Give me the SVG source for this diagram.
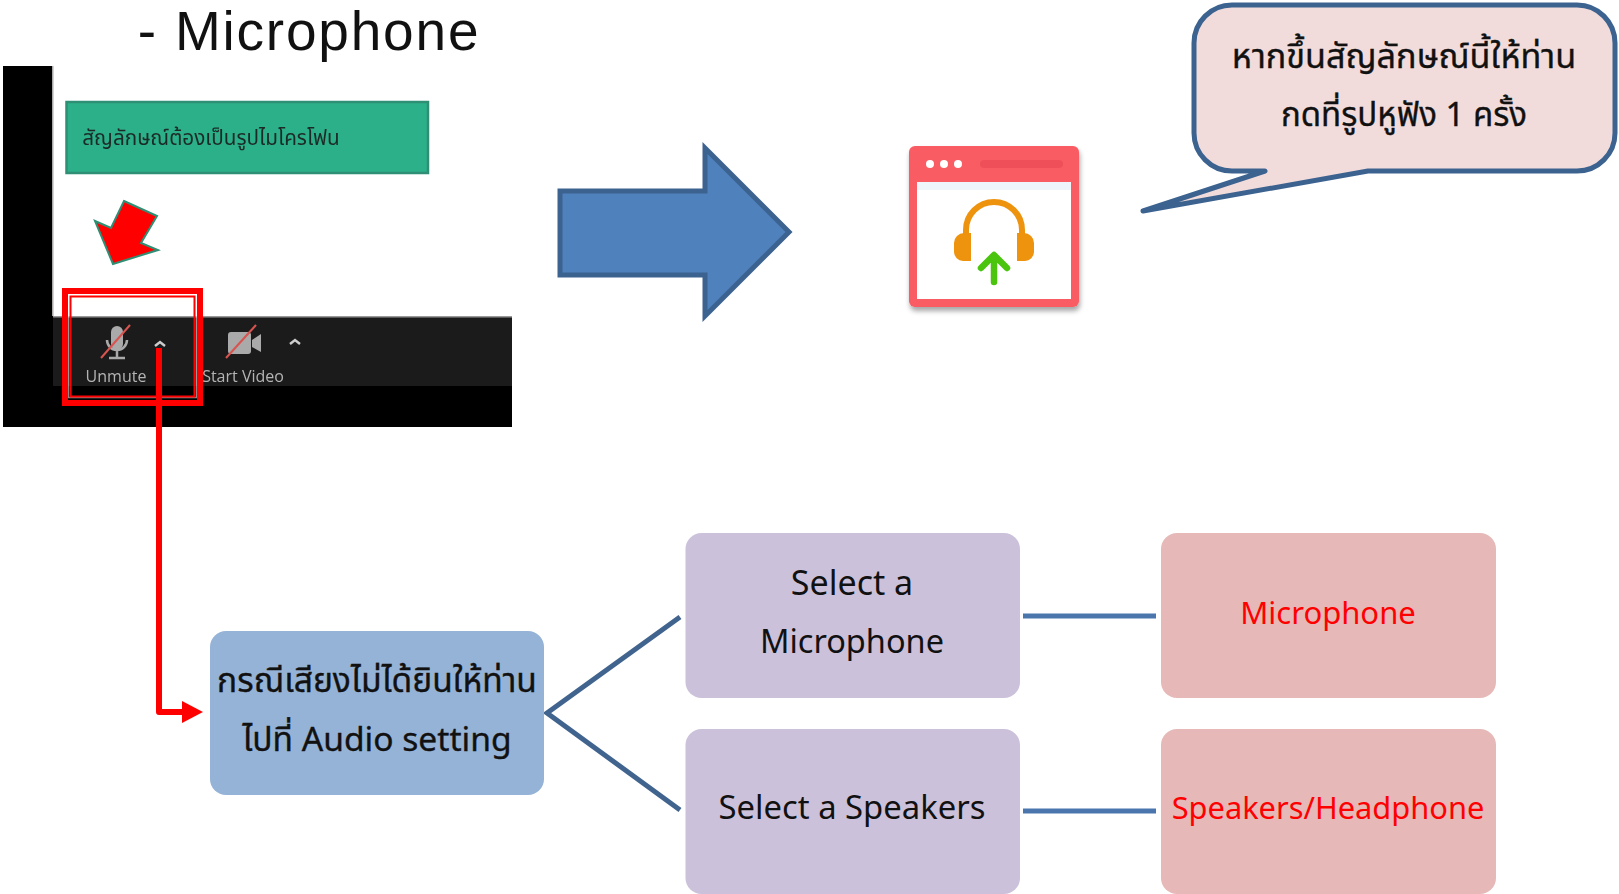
<svg xmlns="http://www.w3.org/2000/svg" width="1619" height="894" viewBox="0 0 1619 894">
<style>
text{font-family:"Noto Sans","Noto Sans Thai","DejaVu Sans",sans-serif;text-anchor:middle;fill:#111}
.th{stroke:#111;stroke-width:.35}
.conn{stroke:#41648f;stroke-width:5;fill:none}
.h{stroke:#4a76ad}
.ui{font-family:"Open Sans","Noto Sans",sans-serif;font-size:16px;fill:#b4b4b4}
.r{fill:#f00}
</style>
<defs>
<filter id="sh" x="-10%" y="-10%" width="120%" height="125%"><feDropShadow dx="1" dy="4" stdDeviation="2.5" flood-color="#000" flood-opacity=".35"/></filter>
<filter id="soft"><feGaussianBlur stdDeviation=".45"/></filter>
</defs>
<rect width="1619" height="894" fill="#fff"/>
<text id="title" x="309" y="50" style="font-family:'Liberation Sans',sans-serif;font-size:55px;letter-spacing:1.8px">- Microphone</text>
<g id="screenshot">
<rect x="3" y="66" width="509" height="361" fill="#000"/>
<rect x="53" y="66" width="459" height="251" fill="#fff"/>
<rect x="53" y="316" width="459" height="70" fill="#1b1b1b"/>
<rect x="53" y="316" width="459" height="1.5" fill="#999"/>
<rect x="52" y="66" width="1.5" height="250" fill="#aaa"/>
<rect x="66.500" y="102" width="361.500" height="71" fill="#2bb08a" stroke="#2f8f75" stroke-width="2.500"/>
<text x="211" y="145" filter="url(#soft)" style="font-size:20.700px;fill:#1c2b26">สัญลักษณ์ต้องเป็นรูปไมโครโฟน</text>
<polygon points="124,201 157,216 141,243 158,250 113,264 95,221 111,228" fill="#f00" stroke="#2f8f75" stroke-width="2"/>
<g id="mic" filter="url(#soft)"><rect x="111" y="326" width="12" height="24" rx="6" fill="#aaa"/><path d="M107 340a10 10 0 0 0 20 0M117 350v8M109 358h16" stroke="#aaa" stroke-width="2.500" fill="none"/><line x1="101" y1="358" x2="130" y2="325" stroke="#d9534f" stroke-width="2"/></g>
<path d="M155 346l5-4 5 4" stroke="#ccc" stroke-width="2.500" fill="none"/>
<text class="ui" x="116" y="382" filter="url(#soft)">Unmute</text>
<g id="cam" filter="url(#soft)"><rect x="228" y="332" width="23" height="22" rx="3" fill="#aaa"/><polygon points="252,340 261,334 261,352 252,347" fill="#aaa"/><line x1="226" y1="358" x2="256" y2="325" stroke="#d9534f" stroke-width="2"/></g>
<path d="M290 344l5-4 5 4" stroke="#ccc" stroke-width="2.500" fill="none"/>
<text class="ui" x="243" y="382" filter="url(#soft)">Start Video</text>
<rect x="68.500" y="294.500" width="128" height="103" fill="none" stroke="#fff" stroke-opacity=".55" stroke-width="1.500"/>
<rect x="70.500" y="296.500" width="124" height="100" fill="none" stroke="#f00" stroke-width="2"/>
<rect x="65" y="291" width="135" height="112" fill="none" stroke="#f00" stroke-width="6"/>
</g>
<g id="big-arrow"><polygon points="560,191 705,191 705,148 789,232 705,316 705,275 560,275" fill="#4f81bd" stroke="#3c6290" stroke-width="5"/></g>
<g id="headset-icon" filter="url(#sh)">
<rect x="909" y="146" width="170" height="161" rx="6" fill="#fa5c64"/>
<rect x="917" y="182" width="154" height="117" fill="#fff"/>
<rect x="917" y="182" width="154" height="8" fill="#eff6fb"/>
<circle cx="930" cy="164" r="4" fill="#fff"/><circle cx="944" cy="164" r="4" fill="#fff"/><circle cx="958" cy="164" r="4" fill="#fff"/>
<rect x="980" y="160" width="83" height="8" rx="4" fill="#ee5058"/>
<path d="M966 236v-6a28 28 0 0 1 56 0v6" fill="none" stroke="#ee9310" stroke-width="6"/>
<path d="M971 233h-7a10 10 0 0 0-10 10v9a9 9 0 0 0 9 9h8zM1017 233h7a10 10 0 0 1 10 10v9a9 9 0 0 1-9 9h-8z" fill="#ee9310"/>
<path d="M994 282v-26M981 268l13-13 13 13" fill="none" stroke="#4cc40e" stroke-width="6.500" stroke-linecap="round" stroke-linejoin="round"/>
</g>
<g id="callout">
<path d="M1232 5H1577a38 38 0 0 1 38 38V133a38 38 0 0 1-38 38H1368L1143 211L1265 171H1232a38 38 0 0 1-38-38V43a38 38 0 0 1 38-38Z" fill="#f2dcdb" stroke="#3c6290" stroke-width="5" stroke-linejoin="round"/>
<text class="th" x="1404" y="68" style="font-size:34.200px">หากขึ้นสัญลักษณ์นี้ให้ท่าน</text>
<text class="th" x="1404" y="126" style="font-size:33px">กดที่รูปหูฟัง 1 ครั้ง</text>
</g>
<g id="connectors">
<path d="M159 348V712H190" fill="none" stroke="#f00" stroke-width="6" stroke-linejoin="round"/>
<polygon points="203,712 182,701 182,723" fill="#f00"/>
<path class="conn" d="M680 617L547 713L680 810"/>
<path class="conn h" d="M1023 616H1156M1023 811H1156"/>
</g>
<g id="audio-setting"><rect x="210" y="631" width="334" height="164" rx="16" fill="#95b3d7"/><text class="th" x="377" y="692" style="font-size:33.600px">กรณีเสียงไม่ได้ยินให้ท่าน</text><text class="th" x="377" y="751" style="font-size:33.600px">ไปที่ Audio setting</text></g>
<g id="select-mic"><rect x="685.500" y="533" width="334.500" height="165" rx="16" fill="#ccc1da"/><text x="852" y="595" style="font-size:34px">Select a</text><text x="852" y="653" style="font-size:32.500px">Microphone</text></g>
<g id="select-speakers"><rect x="685.500" y="729" width="334.500" height="165" rx="16" fill="#ccc1da"/><text x="852" y="819" style="font-size:32.800px">Select a Speakers</text></g>
<g id="microphone"><rect x="1161" y="533" width="335" height="165" rx="16" fill="#e6b9b8"/><text class="r" x="1328" y="624" style="font-size:31px">Microphone</text></g>
<g id="speakers"><rect x="1161" y="729" width="335" height="165" rx="16" fill="#e6b9b8"/><text class="r" x="1328" y="819" style="font-size:30.800px">Speakers/Headphone</text></g>
</svg>
